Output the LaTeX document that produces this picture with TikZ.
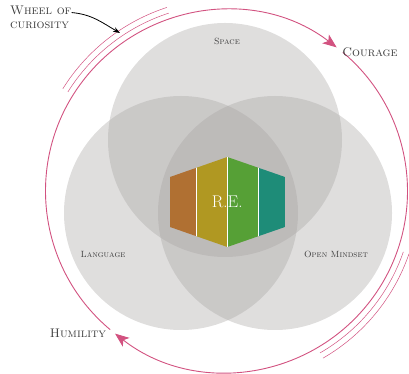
\documentclass[tikz,border=0pt]{standalone}
\usepackage{tikz}
\usetikzlibrary{positioning,arrows.meta}
\definecolor{wheelpink}{RGB}{210,82,128}
\definecolor{vennfill}{RGB}{166,163,161}
\definecolor{reorange}{RGB}{176,112,50}
\definecolor{reyellow}{RGB}{176,152,34}
\definecolor{regreen}{RGB}{86,160,54}
\definecolor{reteal}{RGB}{30,140,120}
\definecolor{labelgray}{RGB}{60,60,60}

\begin{document}
\begin{tikzpicture}[x=1pt,y=1pt,
    venn/.style={fill=vennfill,fill opacity=0.36,draw=none},
    wheel/.style={draw=wheelpink,line width=0.9pt},
    wheelline/.style={draw=wheelpink,line width=0.5pt},
    wheeltip/.style={-{Stealth[length=14pt,width=11pt,inset=3.5pt]}},
    smalllabel/.style={text=labelgray,font=\fontsize{9}{10}\selectfont\scshape,inner sep=0},
    biglabel/.style={text=labelgray,font=\fontsize{12.5}{14}\selectfont\scshape,inner sep=0}
    ]
    \useasboundingbox (0,0) rectangle (409,374);
    %%% Venn circles
    \fill[venn] (225,234) circle (117);
    \fill[venn] (181,161) circle (117);
    \fill[venn] (275,161) circle (117);
    %%% R.E. hexagon
    \begin{scope}
        \clip (227.3,217) -- (285,197) -- (285,147) -- (227.3,127) -- (170,147) -- (170,197) -- cycle;
        \fill[reorange] (170,120) rectangle (196,220);
        \fill[reyellow] (196,120) rectangle (227.3,220);
        \fill[regreen] (227.3,120) rectangle (258.7,220);
        \fill[reteal] (258.7,120) rectangle (285,220);
        \foreach \x in {196,227.3,258.7}
            \draw[white,line width=0.8pt] (\x,120) -- (\x,220);
    \end{scope}
    \node[text=white,font=\fontsize{17}{19}\selectfont] (re) at (227.3,172) {R.E.};
    %%% Wheel
    \coordinate (hub) at (226.5,183);
    \draw[wheel,wheeltip]
        ([shift={(230:181)}]hub) arc[start angle=230,end angle=52.5,radius=181];
    \draw[wheel,wheeltip]
        ([shift={(50:181)}]hub) arc[start angle=50,end angle=-128,radius=181];
    \foreach \r in {187,193} {
        \draw[wheelline] ([shift={(108:\r)}]hub) arc[start angle=108,end angle=148,radius=\r];
        \draw[wheelline] ([shift={(-60:\r)}]hub) arc[start angle=-60,end angle=-19,radius=\r];
    }
    %%% Labels
    \node[smalllabel] (space) at (227,333) {Space};
    \node[smalllabel] (language) at (103,120) {Language};
    \node[smalllabel] (mindset) at (336,120) {Open Mindset};
    \node[biglabel] (courage) at (370,322) {Courage};
    \node[biglabel] (humility) at (78,41) {Humility};
    \node[biglabel,align=left,anchor=north west] (curiosity) at (10,368) {Wheel of\\curiosity};
    \coordinate (curtip) at (120,341);
    \draw[-{Stealth[length=7pt,width=5pt]},line width=0.8pt] ([yshift=5pt]curiosity.east) to[out=-5,in=150] (curtip);
\end{tikzpicture}
\end{document}
